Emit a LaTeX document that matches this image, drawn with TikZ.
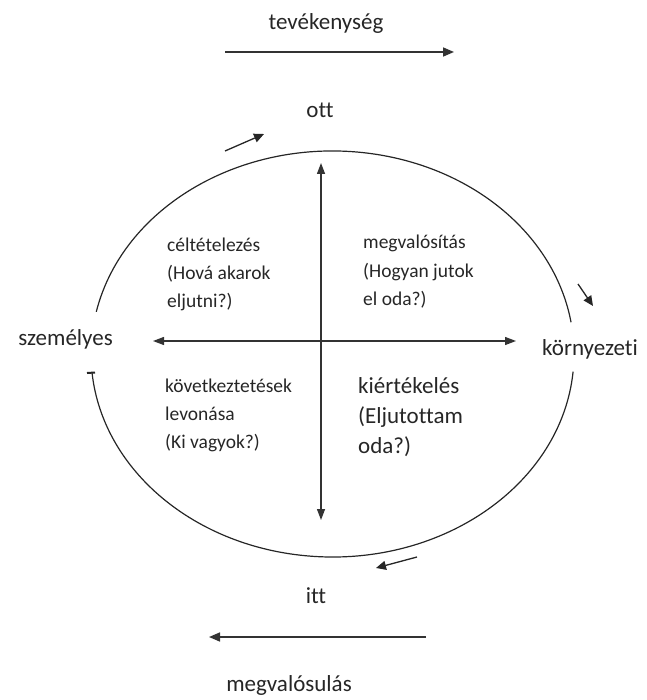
\documentclass[tikz,border=0pt]{standalone}
\usepackage{fontspec}
\setmainfont{Carlito}[Ligatures={NoCommon}]
\usetikzlibrary{arrows.meta}
\begin{document}
\begin{tikzpicture}[x=1pt,y=-1pt,
  lbl/.style={inner sep=0pt, font=\fontsize{23}{28}\selectfont, text=black!85},
  quad/.style={inner sep=0pt, align=left, font=\fontsize{19.5}{28}\selectfont, text=black!85},
  quadbig/.style={inner sep=0pt, align=left, font=\fontsize{23}{30}\selectfont, text=black!85},
  arr/.style={line width=1.6pt, draw=black!80, -{Triangle[length=11pt,width=9pt]}},
  sarr/.style={line width=1.3pt, draw=black!85, -{Triangle[length=10pt,width=9pt]}},
  dbl/.style={line width=1.3pt, draw=black!80, {Triangle[length=11pt,width=8pt]}-{Triangle[length=11pt,width=8pt]}},
  circ/.style={line width=1.2pt, draw=black!85}
]
\useasboundingbox (0,0) rectangle (646,700);

% centre of the cycle
\coordinate (C) at (332.5,354);

% ellipse arcs (open near the side labels)
\draw[circ] ([shift={(192:241.5 and 203)}]C) arc[start angle=192, end angle=351, x radius=241.5, y radius=203];
\draw[circ] ([shift={(5:241.5 and 203)}]C) arc[start angle=5, end angle=174.6, x radius=241.5, y radius=203];
\coordinate (hk1) at (87,373);
\coordinate (hk2) at (95,372.5);
\draw[line width=2pt, black!85] (hk1) -- (hk2);

% axes
\coordinate (vt) at (321,163);
\coordinate (vb) at (321,520);
\coordinate (hl) at (153,341);
\coordinate (hr) at (516,341);
\draw[dbl] (vb) -- (vt);
\draw[dbl] (hl) -- (hr);

% top and bottom arrows
\coordinate (ta1) at (225,52);
\coordinate (ta2) at (454,52);
\draw[arr] (ta1) -- (ta2);
\coordinate (ba1) at (426,637);
\coordinate (ba2) at (209,637);
\draw[arr] (ba1) -- (ba2);

% small direction arrows along the cycle
\coordinate (s1a) at (225,151);
\coordinate (s1b) at (264,134);
\draw[sarr] (s1a) -- (s1b);
\coordinate (s2a) at (578,284);
\coordinate (s2b) at (593,306);
\draw[sarr] (s2a) -- (s2b);
\coordinate (s3a) at (417,557);
\coordinate (s3b) at (376,568);
\draw[sarr] (s3a) -- (s3b);

% labels
\node[lbl, anchor=base] (tev) at (326,30) {tevékenység};
\node[lbl, anchor=base] (ott) at (320,118) {ott};
\node[lbl, anchor=base] (itt) at (316,603) {itt};
\node[lbl, anchor=base] (mvs) at (289,691) {megvalósulás};
\node[lbl, anchor=base east] (szem) at (113,345) {személyes};
\node[lbl, anchor=base west] (korny) at (542,355) {környezeti};

% quadrant texts (base = last line)
\node[quad, anchor=base west] (q1) at (167,307) {céltételezés\\(Hová akarok\\eljutni?)};
\node[quad, anchor=base west] (q2) at (363,305) {megvalósítás\\(Hogyan jutok\\el oda?)};
\node[quad, anchor=base west] (q3) at (165,448) {következtetések\\levonása\\(Ki vagyok?)};
\node[quadbig, anchor=base west] (q4) at (358,453) {kiértékelés\\(Eljutottam\\oda?)};
\end{tikzpicture}
\end{document}
